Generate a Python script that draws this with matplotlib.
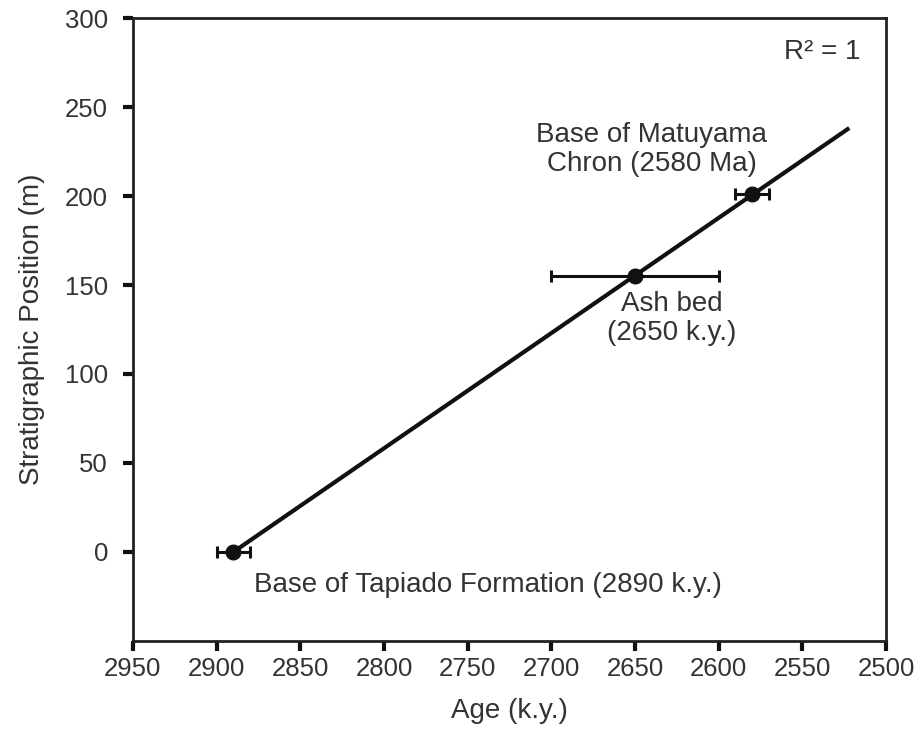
import numpy as np
import matplotlib as mpl
mpl.use("Agg")
import matplotlib.pyplot as plt

mpl.rcParams.update({"font.family": ["Liberation Sans", "DejaVu Sans"], "font.size": 20})

# data
age = [2890, 2650, 2580]          # k.y.
pos = [0, 155, 201]               # m
age_err = [10, 50, 10]
line_end = 2522                   # regression line drawn to here

TXT = "#333333"; INK = "#111111"

fig = plt.figure(figsize=(9.23, 7.29), dpi=100)
ax = fig.add_axes([0.144, 0.121, 0.816, 0.854])

slope, icpt = np.polyfit(age, pos, 1)
xl = np.array([age[0], line_end])
ax.plot(xl, slope * xl + icpt, color=INK, lw=3, solid_capstyle="butt", zorder=2)
ax.errorbar(age, pos, xerr=age_err, fmt="o", ms=10.5, color=INK, ecolor=INK,
            elinewidth=2.2, capsize=4.5, capthick=2.2, zorder=3)

ax.text(2640, 226, "Base of Matuyama\nChron (2580 Ma)", ha="center", va="center", color=TXT, linespacing=1.15)
ax.text(2628, 131, "Ash bed\n(2650 k.y.)", ha="center", va="center", color=TXT, linespacing=1.15)
ax.text(2738, -18.5, "Base of Tapiado Formation (2890 k.y.)", ha="center", va="center", color=TXT)
ax.text(2515, 281, "R² = 1", ha="right", va="center", color=TXT)

ax.set_xlim(2950, 2500)
ax.set_ylim(-50, 300)
ax.set_xticks(np.arange(2950, 2499, -50))
ax.set_yticks(np.arange(0, 301, 50))
ax.tick_params(direction="out", length=7, width=3, color=INK, labelcolor=TXT, labelsize=18.5)
ax.tick_params(axis="x", pad=5)
ax.tick_params(axis="y", pad=11)
for s in ax.spines.values():
    s.set_linewidth(2); s.set_color("#222222")
ax.set_xlabel("Age (k.y.)", color=TXT, labelpad=12)
ax.set_ylabel("Stratigraphic Position (m)", color=TXT, labelpad=14)

fig.savefig("out.png", dpi=100)
